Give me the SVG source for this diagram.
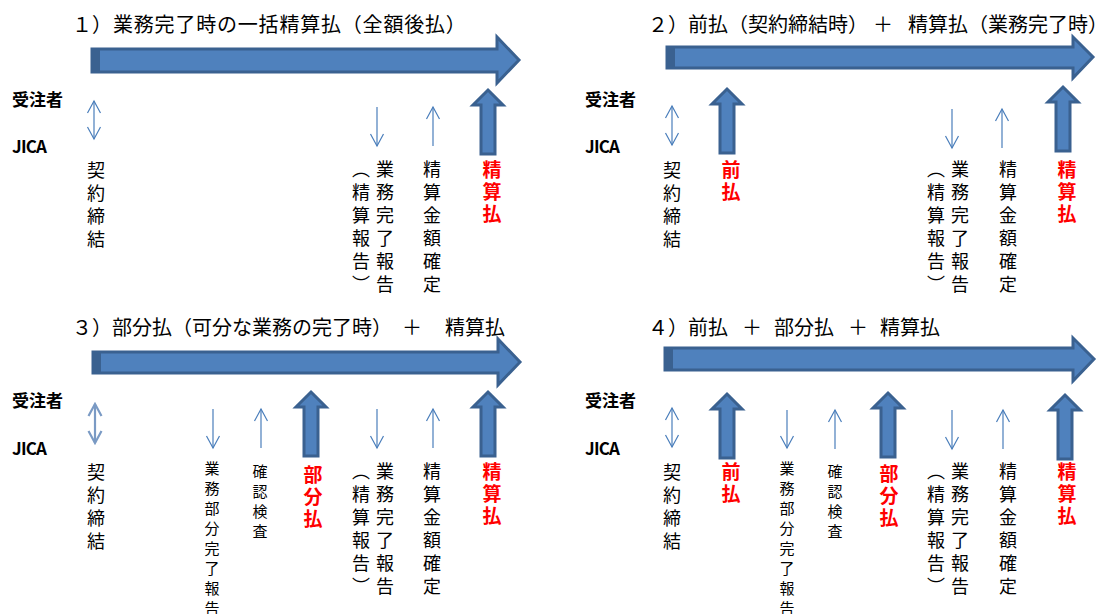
<svg xmlns="http://www.w3.org/2000/svg" width="1109" height="614" viewBox="0 0 1109 614">
<style>
text{font-family:"Noto Sans CJK JP","Noto Sans CJK SC",sans-serif;fill:#000}
.t{font-size:20px}
.lb{font-size:17px;font-weight:bold}
.v{font-size:18px;writing-mode:vertical-rl;letter-spacing:5px}
.vs{font-size:15px;writing-mode:vertical-rl;letter-spacing:5px}
.vr{font-size:19px;font-weight:bold;writing-mode:vertical-rl;letter-spacing:3px;fill:#FF0000}
.big{fill:#4F81BD;stroke:#3A6190;stroke-width:3;stroke-linejoin:miter}
.cap{fill:#3A6190}
.thin{stroke:#4A7EBB;stroke-width:1.2;fill:none}
.thin2{stroke:#7A9AC4;stroke-width:2.2;fill:none}
</style>
<defs>
<marker id="ah" markerUnits="userSpaceOnUse" viewBox="-14 -8 16 16" markerWidth="16" markerHeight="16" refX="0" refY="0" orient="auto-start-reverse">
<path d="M-12,-6.5 L0,0 L-12,6.5" fill="none" stroke="#4A7EBB" stroke-width="1.2"/>
</marker>
<marker id="ah2" markerUnits="userSpaceOnUse" viewBox="-14 -8 16 16" markerWidth="16" markerHeight="16" refX="0" refY="0" orient="auto-start-reverse">
<path d="M-12,-6.5 L0,0 L-12,6.5" fill="none" stroke="#7A9AC4" stroke-width="2.2"/>
</marker>
<path id="up" d="M0,0 L15,15 L7,15 L7,64 L-7,64 L-7,15 L-15,15 Z"/>
</defs>

<!-- Panel 1 -->
<g id="panel1">
<text class="t" y="32"><tspan x="72">１）</tspan><tspan x="113" letter-spacing="0.8">業務完了時の一括精算払（全額後払）</tspan></text>
<g id="p1-timeline">
<path class="big" d="M92,49 L497,49 L497,37 L519,60 L497,83 L497,72 L92,72 Z"/>
<rect class="cap" x="91" y="48" width="9" height="25"/>
</g>
<g id="p1-labels">
<text class="lb" x="12" y="106">受注者</text>
<text class="lb" x="12" y="153" textLength="35" lengthAdjust="spacing">JICA</text>
</g>
<g id="p1-contract"><text class="v" x="96" y="161">契約締結</text></g>
<g id="p1-report"><text class="v" x="385" y="160">業務完了報告</text><text class="v" x="361" y="160">（精算報告）</text></g>
<g id="p1-confirm"><text class="v" x="432" y="160">精算金額確定</text></g>
<g id="p1-final"><use href="#up" x="488" y="90" class="big"/><text class="vr" x="492" y="160">精算払</text></g>
</g>

<!-- Panel 2 -->
<g id="panel2">
<text class="t" y="32"><tspan x="648">２）</tspan><tspan x="688">前払（契約締結時）</tspan><tspan x="873">＋</tspan><tspan x="908">精算払（業務完了時）</tspan></text>
<g id="p2-timeline">
<path class="big" d="M667,47 L1073,47 L1073,37 L1093,57 L1073,78 L1073,68 L667,68 Z"/>
<rect class="cap" x="666" y="46" width="9" height="23"/>
</g>
<g id="p2-labels">
<text class="lb" x="585" y="106">受注者</text>
<text class="lb" x="585" y="153" textLength="35" lengthAdjust="spacing">JICA</text>
</g>
<g id="p2-contract"><text class="v" x="672" y="161">契約締結</text></g>
<g id="p2-advance"><use href="#up" x="727" y="89" class="big"/><text class="vr" x="731" y="160">前払</text></g>
<g id="p2-report"><text class="v" x="960" y="160">業務完了報告</text><text class="v" x="936" y="160">（精算報告）</text></g>
<g id="p2-confirm"><text class="v" x="1008" y="160">精算金額確定</text></g>
<g id="p2-final"><use href="#up" x="1063" y="87" class="big"/><text class="vr" x="1067" y="160">精算払</text></g>
</g>

<!-- Panel 3 -->
<g id="panel3">
<text class="t" y="335"><tspan x="72">３）</tspan><tspan x="112">部分払（可分な業務の完了時）</tspan><tspan x="402">＋</tspan><tspan x="445">精算払</tspan></text>
<g id="p3-timeline">
<path class="big" d="M93,352 L498,352 L498,339 L520,362 L498,385 L498,373 L93,373 Z"/>
<rect class="cap" x="92" y="351" width="9" height="23"/>
</g>
<g id="p3-labels">
<text class="lb" x="12" y="407">受注者</text>
<text class="lb" x="12" y="455" textLength="35" lengthAdjust="spacing">JICA</text>
</g>
<g id="p3-contract"><text class="v" x="96" y="463">契約締結</text></g>
<g id="p3-partreport"><text class="vs" x="212" y="461">業務部分完了報告</text></g>
<g id="p3-inspect"><text class="vs" x="260" y="464">確認検査</text></g>
<g id="p3-partial"><use href="#up" x="311" y="392" class="big"/><text class="vr" x="313" y="465">部分払</text></g>
<g id="p3-report"><text class="v" x="385" y="462">業務完了報告</text><text class="v" x="361" y="462">（精算報告）</text></g>
<g id="p3-confirm"><text class="v" x="432" y="462">精算金額確定</text></g>
<g id="p3-final"><use href="#up" x="488" y="392" class="big"/><text class="vr" x="492" y="462">精算払</text></g>
</g>

<!-- Panel 4 -->
<g id="panel4">
<text class="t" y="335"><tspan x="648">４）</tspan><tspan x="688">前払</tspan><tspan x="742">＋</tspan><tspan x="774">部分払</tspan><tspan x="848">＋</tspan><tspan x="880">精算払</tspan></text>
<g id="p4-timeline">
<path class="big" d="M665,348 L1073,348 L1073,338 L1094,359 L1073,381 L1073,370 L665,370 Z"/>
<rect class="cap" x="664" y="347" width="9" height="24"/>
</g>
<g id="p4-labels">
<text class="lb" x="585" y="407">受注者</text>
<text class="lb" x="585" y="455" textLength="35" lengthAdjust="spacing">JICA</text>
</g>
<g id="p4-contract"><text class="v" x="672" y="463">契約締結</text></g>
<g id="p4-advance"><use href="#up" x="727" y="394" class="big"/><text class="vr" x="731" y="462">前払</text></g>
<g id="p4-partreport"><text class="vs" x="787" y="461">業務部分完了報告</text></g>
<g id="p4-inspect"><text class="vs" x="835" y="464">確認検査</text></g>
<g id="p4-partial"><use href="#up" x="888" y="393" class="big"/><text class="vr" x="889" y="464">部分払</text></g>
<g id="p4-report"><text class="v" x="960" y="462">業務完了報告</text><text class="v" x="936" y="462">（精算報告）</text></g>
<g id="p4-confirm"><text class="v" x="1008" y="462">精算金額確定</text></g>
<g id="p4-final"><use href="#up" x="1065" y="395" class="big"/><text class="vr" x="1067" y="462">精算払</text></g>
</g>

<!-- Connectors -->
<g id="connectors">
<line class="thin" x1="94" y1="101" x2="94" y2="139" marker-start="url(#ah)" marker-end="url(#ah)"/>
<line class="thin" x1="377" y1="107" x2="377" y2="146" marker-end="url(#ah)"/>
<line class="thin" x1="433" y1="146" x2="433" y2="107" marker-end="url(#ah)"/>

<line class="thin" x1="672" y1="106" x2="672" y2="145" marker-start="url(#ah)" marker-end="url(#ah)"/>
<line class="thin" x1="952" y1="109" x2="952" y2="148" marker-end="url(#ah)"/>
<line class="thin" x1="1002" y1="148" x2="1002" y2="109" marker-end="url(#ah)"/>

<line class="thin2" x1="95" y1="404" x2="95" y2="443" marker-start="url(#ah2)" marker-end="url(#ah2)"/>
<line class="thin" x1="213" y1="409" x2="213" y2="448" marker-end="url(#ah)"/>
<line class="thin" x1="261" y1="448" x2="261" y2="409" marker-end="url(#ah)"/>
<line class="thin" x1="377" y1="409" x2="377" y2="448" marker-end="url(#ah)"/>
<line class="thin" x1="433" y1="448" x2="433" y2="409" marker-end="url(#ah)"/>

<line class="thin" x1="672" y1="408" x2="672" y2="447" marker-start="url(#ah)" marker-end="url(#ah)"/>
<line class="thin" x1="787" y1="410" x2="787" y2="448" marker-end="url(#ah)"/>
<line class="thin" x1="835" y1="449" x2="835" y2="410" marker-end="url(#ah)"/>
<line class="thin" x1="952" y1="410" x2="952" y2="449" marker-end="url(#ah)"/>
<line class="thin" x1="1003" y1="449" x2="1003" y2="410" marker-end="url(#ah)"/>
</g>
</svg>
